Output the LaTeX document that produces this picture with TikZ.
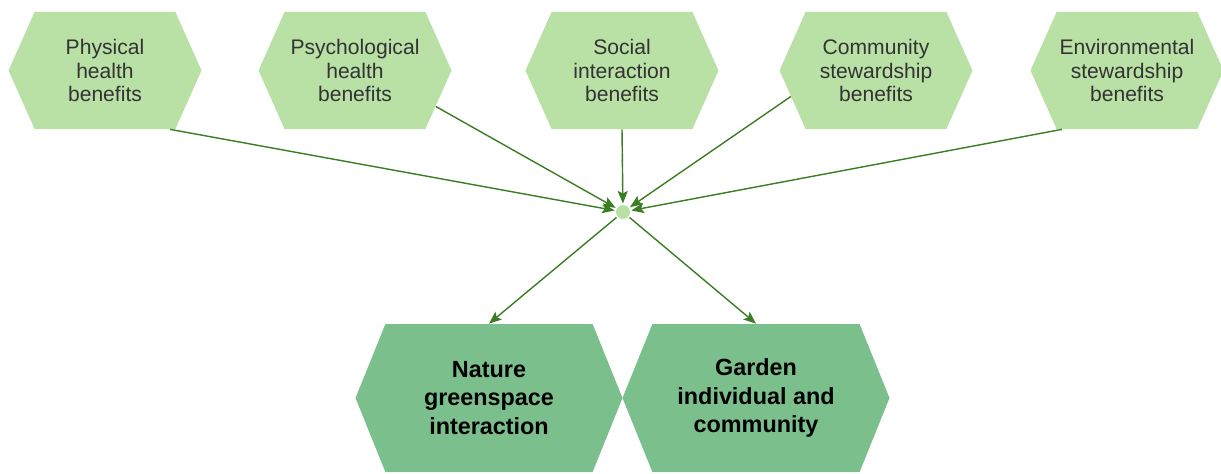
\documentclass[tikz,border=0pt]{standalone}
\usepackage{xcolor}
\usepackage{fontspec}
\setmainfont{Liberation Sans}
\usetikzlibrary{shapes.symbols,arrows.meta}

\definecolor{benefitgreen}{HTML}{B9E0A5}
\definecolor{outcomegreen}{HTML}{7BBF8C}
\definecolor{linkgreen}{HTML}{3B7D23}
\definecolor{labelgray}{HTML}{333333}

\tikzset{
    benefit/.style={signal, signal to=east and west, signal pointer angle=132,
        fill=benefitgreen, minimum width=3.86cm, minimum height=2.34cm, inner sep=0pt,
        align=center, text=labelgray, font=\fontsize{12}{13.6}\selectfont},
    outcome/.style={signal, signal to=east and west, signal pointer angle=136,
        fill=outcomegreen, minimum width=5.34cm, minimum height=2.96cm, inner sep=0pt,
        align=center, text=black, font=\fontsize{13.3}{16}\selectfont\bfseries},
    link/.style={draw=linkgreen, line width=0.8pt,
        -{Stealth[length=0.25cm, width=0.2cm, inset=0.05cm]}},
}

\begin{document}
\begin{tikzpicture}
                \useasboundingbox (0, 0) rectangle (24.42, 9.46);

                \node[benefit] (phys) at (2.10, 8.05) {Physical\\health\\benefits};
                \node[benefit] (psy) at (7.10, 8.05) {Psychological\\health\\benefits};
                \node[benefit] (soc) at (12.44, 8.05) {Social\\interaction\\benefits};
                \node[benefit] (com) at (17.52, 8.05) {Community\\stewardship\\benefits};
                \node[benefit] (env) at (22.54, 8.05) {Environmental\\stewardship\\benefits};

                \node[circle, fill=benefitgreen, minimum size=0.28cm, inner sep=0pt, outer sep=0.03cm] (hub) at (12.46, 5.22) {};

                \node[outcome] (nat) at (9.78, 1.50) {Nature\\greenspace\\interaction};
                \node[outcome] (gar) at (15.12, 1.50) {Garden\\individual and\\community};

                \draw[link] ([xshift=1.3cm]phys.south) -- (hub);
                \draw[link] (psy.-24) -- (hub);
                \draw[link] (soc.south) -- (hub);
                \draw[link] (com.197) -- (hub);
                \draw[link] ([xshift=-1.3cm]env.south) -- (hub);

                \draw[link] (hub) -- (nat.north);
                \draw[link] (hub) -- (gar.north);
            \end{tikzpicture}
\end{document}
